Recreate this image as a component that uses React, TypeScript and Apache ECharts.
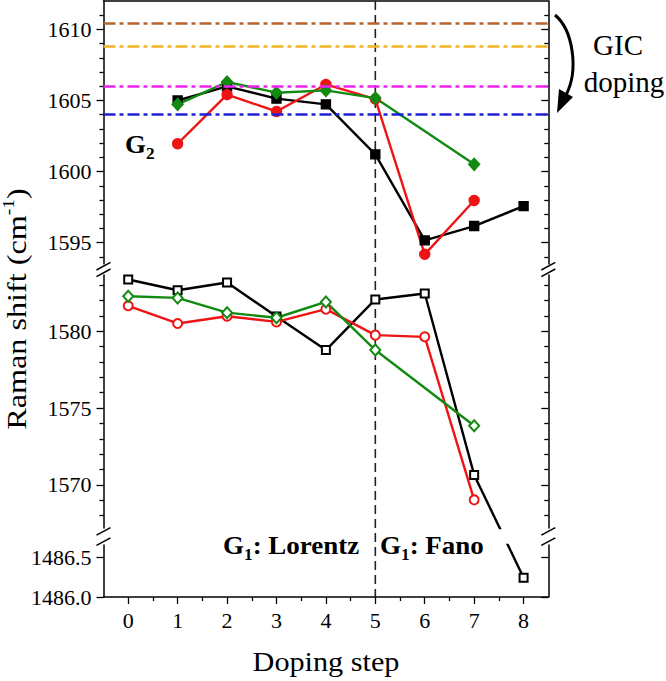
import React, { useEffect, useRef } from 'react';
import * as echarts from 'echarts';

// ---------------- data ----------------
const steps = [0, 1, 2, 3, 4, 5, 6, 7, 8];
// G2 band (filled markers)
const g2Black = [null, 1605.0, 1606.0, 1605.13, 1604.73, 1601.21, 1595.16, 1596.17, 1597.57];
const g2Red = [null, 1601.96, 1605.41, 1604.23, 1606.13, 1605.1, 1594.18, 1597.97, null];
const g2Green = [null, 1604.73, 1606.3, 1605.55, 1605.71, 1605.17, null, 1600.51, null];
// G1 band (open markers)
const g1Black = [1583.36, 1582.66, 1583.16, 1580.95, 1578.77, 1582.06, 1582.45, 1570.65, 1486.245];
const g1Red = [1581.65, 1580.5, 1580.97, 1580.6, 1581.43, 1579.74, 1579.63, 1569.03, null];
const g1Green = [1582.27, 1582.16, 1581.2, 1580.87, 1581.9, 1578.77, null, 1573.85, null];
// GIC reference levels (dash-dot lines)
const gicLevels = [1610.4, 1608.85, 1606.0, 1604.04];
// broken y axis segments [min, max], top to bottom
const segmentRanges = [
  [1593.5, 1612],
  [1567.2, 1583.65],
  [1486.0, 1486.66],
];
const yTicksTop = [1595, 1600, 1605, 1610];
const yTicksMid = [1570, 1575, 1580];
const yTicksBot = [1486.0, 1486.5];
const xTicks = [0, 1, 2, 3, 4, 5, 6, 7, 8];
const xRange = [-0.5, 8.5];
const fanoStart = 5;

// ---------------- layout / style ----------------
const W = 666;
const H = 681;
const FONT = '"Liberation Serif", "Times New Roman", serif';
const GRID_LEFT = 103.5;
const GRID_RIGHT_X = 548.3;
const gridBoxes = [
  { top: 1, height: 263 },
  { top: 275, height: 253 },
  { top: 545, height: 52 },
];
const gicColors = ['#b5652b', '#f0b324', '#ee22ee', '#1f1fd6'];
const RED = '#ee1414';
const GREEN = '#128a12';

const seriesDefs = [
  { name: 'G2 Lorentz', values: g2Black, color: '#000', symbol: 'rect', size: 9 },
  { name: 'G2 red', values: g2Red, color: RED, symbol: 'circle', size: 10 },
  { name: 'G2 green', values: g2Green, color: GREEN, symbol: 'diamond', size: [11, 12] },
  { name: 'G1 black', values: g1Black, color: '#000', symbol: 'emptyRect', size: 8 },
  { name: 'G1 red', values: g1Red, color: RED, symbol: 'emptyCircle', size: 9 },
  { name: 'G1 green', values: g1Green, color: GREEN, symbol: 'emptyDiamond', size: [10, 11] },
];

function segOf(v: number) {
  return segmentRanges.findIndex(([a, b]) => v >= a && v <= b);
}

export default function App() {
  const ref = useRef<HTMLDivElement>(null);

  useEffect(() => {
    const el = ref.current!;
    const chart = echarts.init(el, undefined, { renderer: 'svg' });

    const grids = gridBoxes.map((g) => ({
      left: GRID_LEFT,
      width: GRID_RIGHT_X - GRID_LEFT,
      top: g.top,
      height: g.height,
      containLabel: false,
    }));

    const axisLineStyle = { color: '#000', width: 1.5 };
    const tickLineStyle = { color: '#000', width: 1.3 };
    const labelText = { fontSize: 22, fontFamily: FONT, fontWeight: 'normal', color: '#000' };

    const xAxes: any[] = gridBoxes.map((_, i) => ({
      type: 'value',
      gridIndex: i,
      min: xRange[0],
      max: xRange[1],
      splitNumber: 9,
      show: i === 2,
      position: 'bottom',
      axisLine: { show: true, onZero: false, lineStyle: axisLineStyle },
      axisTick: { show: true, inside: false, length: 7, customValues: xTicks, lineStyle: tickLineStyle },
      minorTick: { show: true, splitNumber: 2, length: 4, lineStyle: tickLineStyle },
      splitLine: { show: false },
      minorSplitLine: { show: false },
      axisLabel: {
        show: true,
        customValues: xTicks,
        margin: 12,
        ...labelText,
      },
    }));
    // top frame line
    xAxes.push({
      type: 'value',
      gridIndex: 0,
      min: xRange[0],
      max: xRange[1],
      position: 'top',
      axisLine: { show: true, onZero: false, lineStyle: axisLineStyle },
      axisTick: { show: false },
      axisLabel: { show: false },
      splitLine: { show: false },
    });

    const tickSets = [yTicksTop, yTicksMid, yTicksBot];
    const splitNums = [4, 3, 1];
    const minorSplits = [5, 5, 0];
    const yAxes: any[] = [];
    gridBoxes.forEach((_, i) => {
      const [min, max] = segmentRanges[i];
      const common = {
        type: 'value',
        gridIndex: i,
        min,
        max,
        splitNumber: splitNums[i],
        splitLine: { show: false },
        minorSplitLine: { show: false },
        axisLine: { show: true, onZero: false, lineStyle: axisLineStyle },
      };
      yAxes.push({
        ...common,
        position: 'left',
        axisTick: { show: true, inside: false, length: 7, customValues: tickSets[i], lineStyle: tickLineStyle },
        minorTick: { show: minorSplits[i] > 0, splitNumber: minorSplits[i] || 5, length: 4, lineStyle: tickLineStyle },
        axisLabel: {
          show: true,
          customValues: tickSets[i],
          formatter: (v: number) => (i === 2 ? v.toFixed(1) : String(v)),
          margin: 12,
          ...labelText,
        },
      });
      yAxes.push({
        ...common,
        position: 'right',
        axisTick: { show: true, inside: true, length: 7, customValues: tickSets[i], lineStyle: tickLineStyle },
        minorTick: { show: minorSplits[i] > 0, splitNumber: minorSplits[i] || 5, length: 4, lineStyle: tickLineStyle },
        axisLabel: { show: false },
      });
    });

    // split each series into runs per axis segment, and record crossings
    type P = { x: number; v: number; seg: number };
    const baseSeries: any[] = [];
    const crossings: { a: P; b: P; def: any }[] = [];
    seriesDefs.forEach((def, di) => {
      const pts: P[] = [];
      steps.forEach((x, i) => {
        const v = def.values[i];
        if (v !== null && v !== undefined) pts.push({ x, v, seg: segOf(v) });
      });
      let run: P[] = [];
      const flush = () => {
        if (!run.length) return;
        const seg = run[0].seg;
        const s: any = {
          type: 'line',
          name: def.name,
          xAxisIndex: seg,
          yAxisIndex: seg * 2,
          data: run.map((p) => [p.x, p.v]),
          symbol: def.symbol,
          symbolSize: def.size,
          showSymbol: true,
          lineStyle: { color: def.color, width: 2.4 },
          itemStyle: { color: def.color, borderColor: def.color, borderWidth: 1.4 },
          z: 3,
          clip: true,
          silent: true,
        };
        if (di === 0 && seg === 0) {
          s.markLine = {
            silent: true,
            symbol: ['none', 'none'],
            label: { show: false },
            data: gicLevels.map((lv, k) => ({
              yAxis: lv,
              lineStyle: { color: gicColors[k], width: 2.6, type: [12, 4, 4, 4] },
            })),
          };
        }
        baseSeries.push(s);
        run = [];
      };
      pts.forEach((p, k) => {
        if (k > 0 && pts[k - 1].seg !== p.seg) {
          crossings.push({ a: pts[k - 1], b: p, def });
          flush();
        }
        run.push(p);
      });
      flush();
    });

    chart.setOption({
      animation: false,
      backgroundColor: '#fff',
      textStyle: { fontFamily: FONT, color: '#000' },
      grid: grids,
      xAxis: xAxes,
      yAxis: yAxes,
      series: baseSeries,
    });

    // connector lines across the axis breaks, straight in screen space
    const finder = (seg: number) => ({ xAxisIndex: seg, yAxisIndex: seg * 2 });
    const connectors: any[] = [];
    crossings.forEach(({ a, b, def }) => {
      const pa = chart.convertToPixel(finder(a.seg), [a.x, a.v]) as number[];
      const pb = chart.convertToPixel(finder(b.seg), [b.x, b.v]) as number[];
      const bInA = chart.convertFromPixel(finder(a.seg), pb) as number[];
      const aInB = chart.convertFromPixel(finder(b.seg), pa) as number[];
      const mk = (seg: number, data: number[][]) => ({
        type: 'line',
        xAxisIndex: seg,
        yAxisIndex: seg * 2,
        data,
        showSymbol: false,
        symbol: 'none',
        lineStyle: { color: def.color, width: 2.4 },
        z: 2,
        clip: true,
        silent: true,
      });
      connectors.push(mk(a.seg, [[a.x, a.v], bInA]));
      connectors.push(mk(b.seg, [aInB, [b.x, b.v]]));
    });

    const xFano = chart.convertToPixel({ xAxisIndex: 2 }, fanoStart) as number;
    const plotTop = gridBoxes[0].top;
    const plotBottom = gridBoxes[2].top + gridBoxes[2].height;

    const slashes: any[] = [];
    for (let i = 0; i < gridBoxes.length - 1; i++) {
      const upperEnd = gridBoxes[i].top + gridBoxes[i].height;
      const lowerStart = gridBoxes[i + 1].top;
      const gap = lowerStart - upperEnd;
      const ys = [upperEnd + gap * 0.2, lowerStart - gap * 0.2];
      [GRID_LEFT, GRID_RIGHT_X].forEach((ax) => {
        ys.forEach((yc) => {
          slashes.push({
            type: 'line',
            silent: true,
            shape: { x1: ax - 7, y1: yc + 3.8, x2: ax + 7, y2: yc - 3.8 },
            style: { stroke: '#000', lineWidth: 1.5 },
          });
        });
      });
    }

    const boldRich = (size: number) => ({
      g: { fontSize: size, fontWeight: 'bold', fontFamily: FONT, lineHeight: 34, fill: '#000' },
      s: { fontSize: 16, fontWeight: 'bold', fontFamily: FONT, lineHeight: 16, verticalAlign: 'bottom', fill: '#000' },
    });

    const graphics: any[] = [
      {
        type: 'line',
        silent: true,
        z: 1,
        shape: { x1: xFano, y1: plotTop, x2: xFano, y2: plotBottom },
        style: { stroke: '#222', lineWidth: 1.6, lineDash: [9, 5] },
      },
      ...slashes,
      {
        type: 'text',
        x: 17,
        y: 309,
        rotation: Math.PI / 2,
        scaleX: 1.15,
        style: {
          text: '{a|Raman shift (cm}{b|-1}{a|)}',
          align: 'center',
          verticalAlign: 'middle',
          fill: '#000',
          rich: {
            a: { fontSize: 28, fontFamily: FONT, lineHeight: 34, fill: '#000' },
            b: { fontSize: 17, fontFamily: FONT, lineHeight: 17, verticalAlign: 'top', fill: '#000' },
          },
        },
      },
      {
        type: 'text',
        x: 326,
        y: 661,
        scaleX: 1.08,
        style: { text: 'Doping step', fontSize: 28, fontFamily: FONT, fill: '#000', align: 'center', verticalAlign: 'middle' },
      },
      {
        type: 'text',
        x: 125,
        y: 144.5,
        scaleX: 1.08,
        style: { text: '{g|G}{s|2}', align: 'left', verticalAlign: 'middle', rich: boldRich(25) },
      },
      {
        type: 'text',
        x: 223,
        y: 545.5,
        scaleX: 1.08,
        style: { text: '{g|G}{s|1}{g|: Lorentz}', align: 'left', verticalAlign: 'middle', rich: boldRich(25) },
      },
      {
        type: 'text',
        x: 380,
        y: 545.5,
        scaleX: 1.08,
        style: { text: '{g|G}{s|1}{g|: Fano}', align: 'left', verticalAlign: 'middle', rich: boldRich(25) },
      },
      {
        type: 'text',
        x: 618,
        y: 45,
        style: { text: 'GIC', fontSize: 29, fontFamily: FONT, fill: '#000', align: 'center', verticalAlign: 'middle' },
      },
      {
        type: 'text',
        x: 624,
        y: 82,
        style: { text: 'doping', fontSize: 29, fontFamily: FONT, fill: '#000', align: 'center', verticalAlign: 'middle' },
      },
      {
        type: 'bezierCurve',
        silent: true,
        shape: { x1: 555, y1: 15, cpx1: 573, cpy1: 30, cpx2: 579, cpy2: 70, x2: 566, y2: 95 },
        style: { stroke: '#000', lineWidth: 3, fill: 'none' },
      },
      {
        type: 'polygon',
        silent: true,
        shape: { points: [[557, 113], [559, 89], [573, 97]] },
        style: { fill: '#000' },
      },
    ];

    chart.setOption({
      series: [...baseSeries, ...connectors],
      graphic: { elements: graphics },
    });

    return () => chart.dispose();
  }, []);

  return <div ref={ref} style={{ position: 'fixed', left: 0, top: 0, width: W, height: H }} />;
}
